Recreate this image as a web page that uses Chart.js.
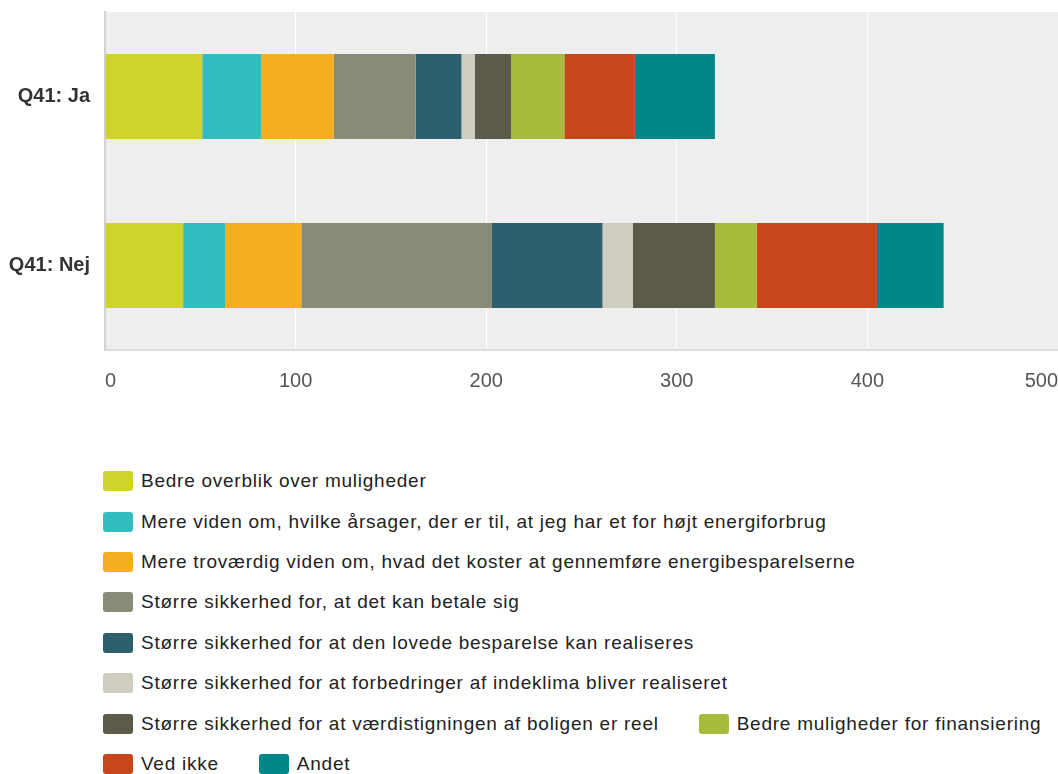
<!DOCTYPE html>
<html>
<head>
<meta charset="utf-8">
<script src="https://cdn.jsdelivr.net/npm/chart.js@4"></script>
<style>
  html, body { margin: 0; padding: 0; background: #ffffff; overflow: hidden; }
  #wrap { position: absolute; left: 0; top: 0; width: 1058px; height: 420px; }
  #legend {
    position: absolute; left: 103px; top: 461px; width: 955px;
    display: flex; flex-wrap: wrap; column-gap: 40px;
    font-family: "Liberation Sans", Arial, sans-serif; font-size: 19px;
    letter-spacing: 0.75px; color: #222222;
  }
  .item { display: flex; align-items: center; height: 40.4px; white-space: nowrap; }
  .box { width: 30px; height: 20px; border-radius: 3px; margin-right: 8px; flex: none; }
</style>
</head>
<body>
<div id="wrap"><canvas id="chart"></canvas></div>
<div id="legend"></div>
<script>
// ── Data ────────────────────────────────────────────────────────────────────
var categories = ["Q41: Ja", "Q41: Nej"];

var seriesLabels = [
  "Bedre overblik over muligheder",
  "Mere viden om, hvilke årsager, der er til, at jeg har et for højt energiforbrug",
  "Mere troværdig viden om, hvad det koster at gennemføre energibesparelserne",
  "Større sikkerhed for, at det kan betale sig",
  "Større sikkerhed for at den lovede besparelse kan realiseres",
  "Større sikkerhed for at forbedringer af indeklima bliver realiseret",
  "Større sikkerhed for at værdistigningen af boligen er reel",
  "Bedre muligheder for finansiering",
  "Ved ikke",
  "Andet"
];

// en vaerdi pr. serie, samme raekkefolge som seriesLabels
var jaValues  = [51, 31, 38, 43, 24, 7, 19, 28, 37, 42];
var nejValues = [41, 22, 40, 100, 58, 16, 43, 22, 63, 35];

var xTicks = [0, 100, 200, 300, 400, 500];

var seriesColors = [
  "#cfd42a", "#33bdbf", "#f6ae1f", "#8a8a79", "#2e5f6d",
  "#cfcdbf", "#5c5a4b", "#a9bb3a", "#c8461b", "#008888"
];

var FONT = "'Liberation Sans', Arial, sans-serif";

// ── Plot background ─────────────────────────────────────────────────────────
var plotBg = {
  id: "plotBg",
  beforeDraw: function(chart) {
    var a = chart.chartArea, ctx = chart.ctx;
    ctx.save();
    ctx.fillStyle = "#eeeeee";
    ctx.fillRect(a.left, a.top, a.right - a.left, a.bottom - a.top);
    ctx.restore();
  }
};

var datasets = seriesLabels.map(function(lbl, i) {
  return {
    label: lbl,
    data: [jaValues[i], nejValues[i]],
    backgroundColor: seriesColors[i],
    borderWidth: 0,
    barPercentage: 1,
    categoryPercentage: 0.503
  };
});

new Chart(document.getElementById("chart"), {
  type: "bar",
  data: { labels: categories, datasets: datasets },
  options: {
    indexAxis: "y",
    responsive: true, maintainAspectRatio: false,
    animation: false,
    layout: { padding: { top: 12, right: 0, left: 0, bottom: 0 } },
    plugins: {
      legend: { display: false },
      tooltip: { enabled: false }
    },
    scales: {
      x: {
        stacked: true, min: 0, max: 500,
        afterBuildTicks: function(axis) { axis.ticks = xTicks.map(function(v) { return { value: v }; }); },
        afterFit: function(axis) { axis.height = 70; axis.paddingLeft = 0; axis.paddingRight = 0; },
        grid: { color: "#ffffff", lineWidth: 1, drawTicks: false },
        border: { color: "#dcdcdc", width: 2 },
        ticks: {
          align: "inner", padding: 19,
          font: { family: FONT, size: 20 }, color: "#555555"
        }
      },
      y: {
        stacked: true,
        afterFit: function(axis) { axis.width = 105; axis.paddingTop = 0; axis.paddingBottom = 0; },
        grid: { display: false, drawTicks: false },
        border: { color: "#d3d3d3", width: 2 },
        ticks: {
          padding: 15,
          font: { family: FONT, size: 20, weight: "bold" }, color: "#333333"
        }
      }
    }
  },
  plugins: [plotBg]
});

// ── Legend (html) ───────────────────────────────────────────────────────────
var legendEl = document.getElementById("legend");
seriesLabels.forEach(function(lbl, i) {
  var item = document.createElement("div");
  item.className = "item";
  var box = document.createElement("span");
  box.className = "box";
  box.style.background = seriesColors[i];
  var txt = document.createElement("span");
  txt.textContent = lbl;
  item.appendChild(box);
  item.appendChild(txt);
  legendEl.appendChild(item);
});
</script>
</body>
</html>
